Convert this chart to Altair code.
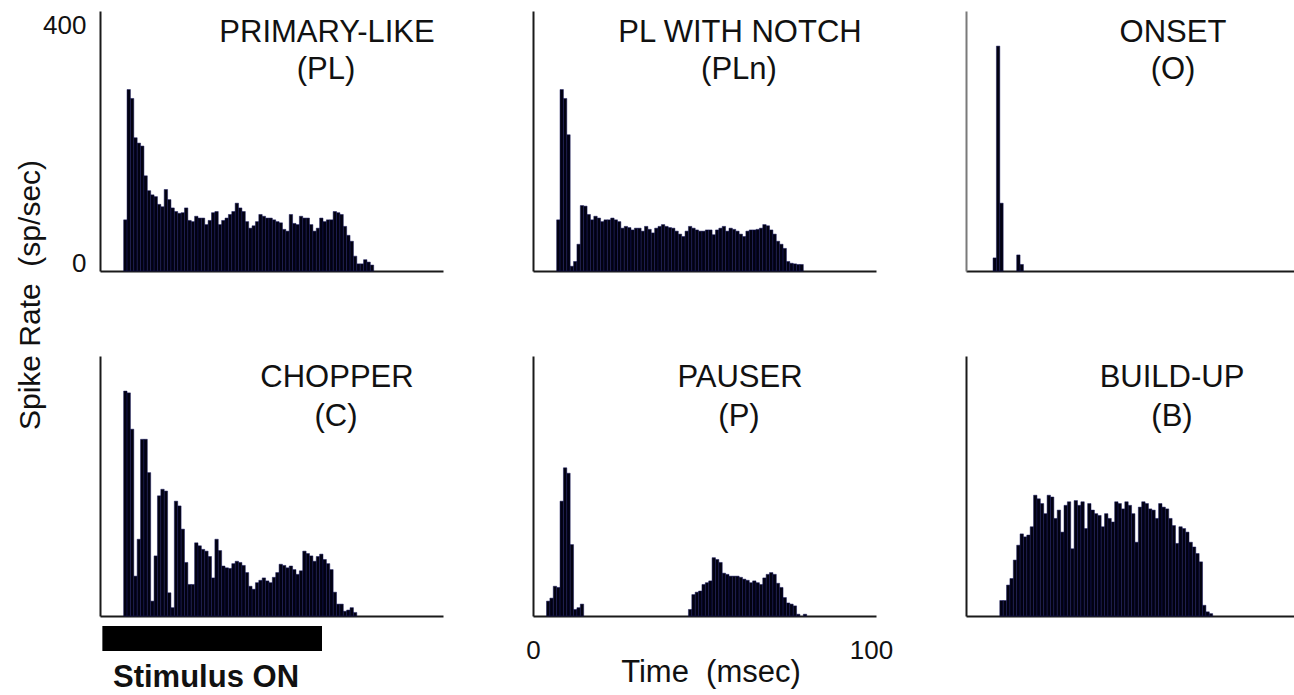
import altair as alt
import pandas as pd

# ---------------- data (spike rate in sp/sec, 1-ms bins) ----------------
BIN_MS = 1.0

pl_start = 7
pl_rate = [86, 305, 290, 224, 215, 210, 160, 135, 128, 125, 112, 108, 137, 120, 106, 100,
           97, 98, 106, 85, 83, 92, 89, 89, 78, 85, 98, 100, 78, 85, 89, 95, 100, 114, 106,
           100, 83, 72, 76, 83, 95, 92, 89, 89, 86, 83, 81, 70, 67, 95, 80, 78, 92, 89, 89,
           78, 67, 72, 89, 83, 86, 86, 100, 98, 95, 75, 60, 50, 25, 12, 12, 19, 15, 10]

pln_start = 7
pln_rate = [86, 305, 290, 229, 8, 16, 45, 110, 109, 95, 86, 92, 89, 83, 86, 86, 89, 86, 83,
            72, 75, 73, 69, 72, 72, 67, 75, 70, 64, 72, 75, 78, 75, 73, 72, 67, 62, 58, 67,
            75, 72, 69, 67, 67, 69, 69, 61, 69, 72, 75, 67, 72, 70, 67, 62, 58, 67, 69, 69,
            70, 72, 78, 76, 69, 62, 50, 45, 38, 16, 13, 12, 11, 11]

onset_start = 8
onset_rate = [22, 378, 114, 0, 0, 0, 0, 27, 11]

chop_start = 7
chop_rate = [378, 375, 314, 67, 129, 297, 297, 241, 25, 101, 202, 213, 210, 39, 14, 193, 185,
             146, 90, 53, 53, 123, 118, 112, 109, 100, 64, 129, 110, 84, 81, 80, 88, 92, 90,
             85, 73, 50, 45, 56, 60, 64, 59, 56, 65, 73, 87, 85, 81, 84, 78, 70, 76, 109, 105,
             101, 92, 100, 104, 95, 88, 78, 40, 20, 20, 8, 10, 14, 6]

pause_start = 4
pause_rate = [25, 30, 50, 48, 193, 249, 240, 120, 11, 14, 20,
              0, 0, 0, 0, 0, 0, 0, 0, 0, 0, 0, 0, 0, 0, 0, 0, 0, 0, 0, 0, 0, 0, 0, 0, 0, 0,
              0, 0, 0, 0, 0,
              11, 36, 40, 42, 53, 56, 59, 98, 95, 90, 72, 70, 67, 67, 67, 65, 62, 60, 56, 59,
              56, 53, 64, 70, 73, 70, 55, 48, 31, 22, 20, 17, 3, 0, 3]

build_start = 10
build_rate = [26, 26, 52, 63, 94, 119, 138, 133, 136, 150, 203, 197, 189, 172, 203, 200, 164,
              178, 141, 186, 192, 113, 194, 186, 192, 147, 189, 178, 172, 169, 150, 172, 164,
              158, 192, 189, 180, 192, 186, 172, 124, 183, 192, 189, 180, 178, 164, 189, 183,
              180, 164, 152, 122, 150, 147, 141, 124, 116, 105, 91, 18, 7, 4]

stim_on = 0.7
stim_off = 65.7

titles = [("PRIMARY-LIKE", "(PL)"), ("PL WITH NOTCH", "(PLn)"), ("ONSET", "(O)"),
          ("CHOPPER", "(C)"), ("PAUSER", "(P)"), ("BUILD-UP", "(B)")]
y_ticks = [0, 400]
x_ticks = [0, 100]
y_title = "Spike Rate\u00a0 (sp/sec)"
x_title = "Time\u00a0 (msec)"
stim_label = "Stimulus ON"

# ---------------- styling ----------------
FONT = "Liberation Sans"
BAR_FILL = "#020210"
BAR_EDGE = "#16165e"
AXIS_COL = "#1a1a1a"
YMAX = 437
PX_PER_MS = 3.379
H = 260


def label(text, x, y, size, weight="normal", angle=0, align="center"):
    return alt.Chart(pd.DataFrame({"label": [text]})).mark_text(
        font=FONT, fontSize=size, fontWeight=weight, angle=angle, align=align,
        baseline="alphabetic", color="#111111"
    ).encode(x=alt.value(x), y=alt.value(y), text="label:N")


def panel(start, rates, title, tpos, width, xlab=False, ylab=False, ydom=AXIS_COL, extra=()):
    df = pd.DataFrame({"t0": [start + i * BIN_MS for i in range(len(rates))], "rate": rates})
    df = df[df["rate"] > 0].copy()
    df["t1"] = df["t0"] + BIN_MS
    xmax = width / PX_PER_MS
    X = alt.X("t0:Q", scale=alt.Scale(domain=[0, xmax], nice=False, zero=False),
              axis=alt.Axis(title=None, grid=False, ticks=False, tickSize=0, domainColor=AXIS_COL,
                            domainWidth=2, labels=xlab, values=x_ticks, labelFont=FONT,
                            labelFontSize=26, labelColor="#111111", labelPadding=42,
                            labelBaseline="alphabetic", labelFlush=False))
    Y = alt.Y("rate:Q", scale=alt.Scale(domain=[0, YMAX], nice=False),
              axis=alt.Axis(title=None, grid=False, ticks=False, tickSize=0, domainColor=ydom,
                            domainWidth=2, labels=ylab, values=y_ticks, labelFont=FONT,
                            labelFontSize=26, labelColor="#111111", labelPadding=14,
                            labelBaseline="alphabetic", labelFlush=False))
    bars = alt.Chart(df).mark_rect(fill=BAR_FILL, stroke=BAR_EDGE, strokeWidth=0.5).encode(
        x=X, x2="t1:Q", y=Y, y2=alt.datum(0))
    (tx1, ty1), (tx2, ty2) = tpos
    layers = [bars, label(title[0], tx1, ty1, 31), label(title[1], tx2, ty2, 31)]
    for e in extra:
        layers.append(e(X))
    return alt.layer(*layers).properties(width=width, height=H)


def stim_bar(X):
    return alt.Chart(pd.DataFrame({"t0": [stim_on], "t1": [stim_off]})).mark_rect(
        color="#000000").encode(x=X, x2="t1:Q", y=alt.value(270), y2=alt.value(295))


p1 = panel(pl_start, pl_rate, titles[0], ((227, 31), (226, 68)), 343, ylab=True,
           extra=[lambda X: label(y_title, -60, 284, 30, angle=270)])
p2 = panel(pln_start, pln_rate, titles[1], ((207, 31), (206, 68)), 343)
p3 = panel(onset_start, onset_rate, titles[2], ((207, 31), (207, 68)), 328, ydom="#7a7a7a")
p4 = panel(chop_start, chop_rate, titles[3], ((237, 31), (236, 70)), 343,
           extra=[stim_bar, lambda X: label(stim_label, 106, 331, 31, weight="bold")])
p5 = panel(pause_start, pause_rate, titles[4], ((207, 31), (206, 70)), 343, xlab=True,
           extra=[lambda X: label(x_title, 178, 326, 31)])
p6 = panel(build_start, build_rate, titles[5], ((206, 31), (206, 70)), 328)

chart = alt.concat(p1, p2, p3, p4, p5, p6, columns=3,
                   spacing={"row": 85, "column": 90}, bounds="flush").properties(
    padding={"left": 16, "top": 11, "right": 0, "bottom": 0},
    background="white",
).configure_view(strokeWidth=0)

chart.save("out.html", embed_options={"renderer": "svg", "actions": False})
